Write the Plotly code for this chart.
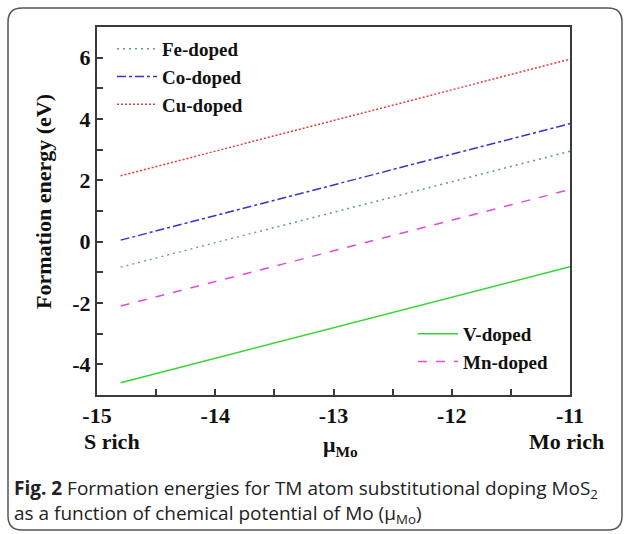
import plotly.graph_objects as go

# ---- data ----
mu_mo = [-14.8, -11.0]
fe_doped = [-0.83, 2.95]
co_doped = [0.05, 3.85]
cu_doped = [2.15, 5.95]
v_doped = [-4.6, -0.82]
mn_doped = [-2.1, 1.7]

x_ticks = [-15, -14, -13, -12, -11]
y_ticks = [-4, -2, 0, 2, 4, 6]

W, H = 630, 534
L, R, T, B = 97, 60, 27, 139
PW, PH = W - L - R, H - T - B


def px(x):
    return (x - L) / PW


def py(y):
    return (H - B - y) / PH


serif = "Liberation Serif"

fig = go.Figure()

series = [
    ("Fe-doped", fe_doped, "#5f9a98", "2px,4px", "legend"),
    ("Co-doped", co_doped, "#3535c8", "dashdot", "legend"),
    ("Cu-doped", cu_doped, "#e83a3a", "2px,2px", "legend"),
    ("V-doped", v_doped, "#33d633", "solid", "legend2"),
    ("Mn-doped", mn_doped, "#e04ae0", "dash", "legend2"),
]
for i, (name, vals, col, dash, lg) in enumerate(series):
    fig.add_trace(go.Scatter(
        x=mu_mo, y=vals, mode="lines", name=name,
        line=dict(color=col, width=1.5, dash=dash),
        legend=lg, legendgroup=name,
    ))

axis_common = dict(
    showline=True, linecolor="#3a3a3a", linewidth=2, mirror=True,
    ticks="inside", ticklen=6, tickwidth=1.5, tickcolor="#3a3a3a",
    showgrid=False, zeroline=False,
    tickfont=dict(family=serif, size=22, color="#111", weight="bold"),
)

fig.update_xaxes(
    range=[-15, -11], tickvals=x_ticks,
    ticktext=[str(t) for t in x_ticks],
    minor=dict(dtick=0.5, ticks="inside", ticklen=6, tickwidth=1.5, tickcolor="#3a3a3a"),
    **axis_common,
)
fig.update_yaxes(
    range=[-5, 7], tickvals=y_ticks,
    ticktext=[str(t) for t in y_ticks],
    minor=dict(dtick=1, ticks="inside", ticklen=6, tickwidth=1.5, tickcolor="#3a3a3a"),
    **axis_common,
)

legend_font = dict(family=serif, size=19, color="#111", weight="bold")
fig.update_layout(
    width=W, height=H,
    margin=dict(l=L, r=R, t=T, b=B, autoexpand=False),
    paper_bgcolor="white", plot_bgcolor="white",
    showlegend=True,
    legend=dict(x=px(112), y=py(30), xanchor="left", yanchor="top",
                font=legend_font, bgcolor="rgba(0,0,0,0)", tracegroupgap=0,
                itemwidth=40),
    legend2=dict(x=px(413), y=py(315), xanchor="left", yanchor="top",
                 font=legend_font, bgcolor="rgba(0,0,0,0)", tracegroupgap=0,
                 itemwidth=40),
)

# outer rounded frame
x0, x1, y0, y1, r = 8, 622, 8, 530, 14
path = (
    f"M{px(x0 + r)},{py(y0)} L{px(x1 - r)},{py(y0)} Q{px(x1)},{py(y0)} {px(x1)},{py(y0 + r)} "
    f"L{px(x1)},{py(y1 - r)} Q{px(x1)},{py(y1)} {px(x1 - r)},{py(y1)} "
    f"L{px(x0 + r)},{py(y1)} Q{px(x0)},{py(y1)} {px(x0)},{py(y1 - r)} "
    f"L{px(x0)},{py(y0 + r)} Q{px(x0)},{py(y0)} {px(x0 + r)},{py(y0)} Z"
)
fig.add_shape(type="path", path=path, xref="paper", yref="paper",
              line=dict(color="#555", width=1.5), layer="below")

ann_font = dict(family=serif, size=22, color="#111", weight="bold")


def label(text, x, y, **kw):
    fig.add_annotation(text=text, x=px(x), y=py(y), xref="paper", yref="paper",
                       xanchor=kw.pop("xanchor", "center"), yanchor="middle",
                       showarrow=False, **kw)


label("Formation energy (eV)", 44, 202, textangle=-90, font=ann_font)
label("S rich", 112, 441, font=ann_font)
label("Mo rich", 566, 441, font=ann_font)
label("μ<sub>Mo</sub>", 340, 446, font=ann_font)

cap_font = dict(family="Open Sans", size=19, color="#222")
label("<b>Fig. 2</b> Formation energies for TM atom substitutional doping MoS<sub>2</sub>",
      12, 489, xanchor="left", font=cap_font)
label("as a function of chemical potential of Mo (μ<sub>Mo</sub>)",
      12, 514, xanchor="left", font=cap_font)

fig.write_html("out.html", config={"displayModeBar": False},
               post_script="document.body.style.margin='0px';")
